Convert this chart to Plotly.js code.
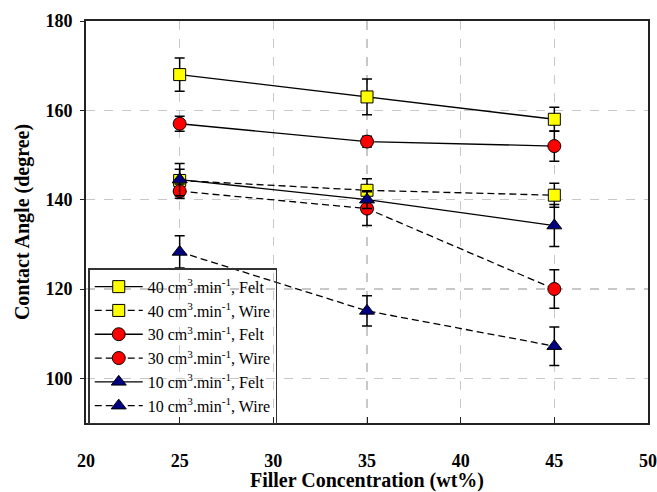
<!DOCTYPE html>
<html>
<head>
<meta charset="utf-8">
<script src="https://cdn.plot.ly/plotly-3.0.1.min.js"></script>
<style>html,body{margin:0;padding:0;background:#fff;}#chart{width:657px;height:492px;}</style>
</head>
<body>
<div id="chart"></div>
<script>
const concentration = [25, 35, 45];

const felt40 = [168, 163, 158];
const felt40Err = [3.7, 4.0, 2.7];
const wire40 = [144.3, 142.1, 141];
const wire40Err = [2.5, 2.6, 2.7];
const felt30 = [157, 153, 152];
const felt30Err = [1.7, 1.2, 3.4];
const wire30 = [141.9, 138, 120];
const wire30Err = [1.6, 3.8, 4.3];
const felt10 = [144.5, 140, 134.2];
const felt10Err = [3.6, 2.0, 4.7];
const wire10 = [128.3, 115.1, 107.2];
const wire10Err = [3.6, 3.4, 4.3];

const seriesNames = [
  '40 cm<sup>3</sup>.min<sup>-1</sup>, Felt',
  '40 cm<sup>3</sup>.min<sup>-1</sup>, Wire',
  '30 cm<sup>3</sup>.min<sup>-1</sup>, Felt',
  '30 cm<sup>3</sup>.min<sup>-1</sup>, Wire',
  '10 cm<sup>3</sup>.min<sup>-1</sup>, Felt',
  '10 cm<sup>3</sup>.min<sup>-1</sup>, Wire'
];

function mk(name, y, err, color, symbol, dash) {
  return {
    x: concentration, y: y, name: name, type: 'scatter', mode: 'lines+markers',
    line: {color: '#000', width: 1.3, dash: dash},
    marker: {color: color, symbol: symbol, size: symbol === 'square' ? 12 : 13, line: {color: '#000', width: 1}},
    error_y: {type: 'data', array: err, visible: true, color: '#000', thickness: 1.5, width: 5}
  };
}
const dashed = '7px,4px';
const traces = [
  mk(seriesNames[0], felt40, felt40Err, '#ffff00', 'square', 'solid'),
  mk(seriesNames[1], wire40, wire40Err, '#ffff00', 'square', dashed),
  mk(seriesNames[2], felt30, felt30Err, '#ff0000', 'circle', 'solid'),
  mk(seriesNames[3], wire30, wire30Err, '#ff0000', 'circle', dashed),
  mk(seriesNames[4], felt10, felt10Err, '#000080', 'triangle-up', 'solid'),
  mk(seriesNames[5], wire10, wire10Err, '#000080', 'triangle-up', dashed)
];

const layout = {
  width: 657, height: 492,
  margin: {l: 86, r: 9, t: 21, b: 69},
  paper_bgcolor: '#fff', plot_bgcolor: '#fff',
  font: {family: 'Liberation Serif, Times New Roman, serif', color: '#000'},
  showlegend: true,
  legend: {
    x: 0.004, y: 0.385, xanchor: 'left', yanchor: 'top',
    bgcolor: 'rgba(0,0,0,0)', bordercolor: '#333', borderwidth: 1.5,
    font: {size: 16, family: 'Liberation Serif, serif'},
    tracegroupgap: 0, itemwidth: 48
  },
  xaxis: {
    range: [20, 50], dtick: 5, tick0: 20,
    showline: true, linecolor: '#222', linewidth: 2, mirror: true,
    ticks: 'inside', ticklen: 6, tickcolor: '#222',
    showgrid: true, gridcolor: '#c8c8c8', griddash: 'dash', gridwidth: 1.5,
    zeroline: false,
    tickfont: {size: 18, family: 'Liberation Serif, serif', weight: 'bold'},
    ticklabelstandoff: 20,
    title: {text: '<b>Filler Concentration (wt%)</b>', font: {size: 20, family: 'Liberation Serif, serif'}, standoff: 20}
  },
  yaxis: {
    range: [90, 180], dtick: 20, tick0: 100,
    showline: true, linecolor: '#222', linewidth: 2, mirror: true,
    ticks: 'outside', ticklen: 4, tickcolor: '#222',
    showgrid: true, gridcolor: '#c8c8c8', griddash: 'dash', gridwidth: 1.5,
    zeroline: false,
    tickfont: {size: 18, family: 'Liberation Serif, serif', weight: 'bold'},
    ticklabelstandoff: 4,
    title: {text: '<b>Contact Angle (degree)</b>', font: {size: 20, family: 'Liberation Serif, serif'}, standoff: 10}
  }
};

Plotly.newPlot('chart', traces, layout, {displayModeBar: false, staticPlot: true});
</script>
</body>
</html>
